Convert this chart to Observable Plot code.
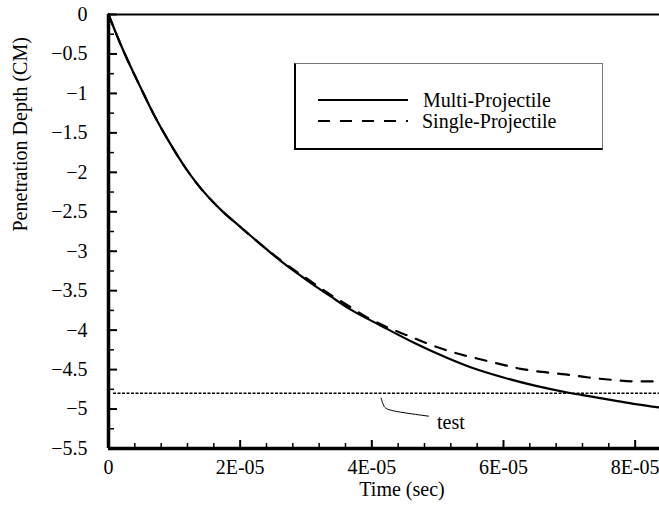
<!DOCTYPE html>
<html><head><meta charset="utf-8">
<script src="https://cdn.jsdelivr.net/npm/d3@7"></script>
<script src="https://cdn.jsdelivr.net/npm/@observablehq/plot@0.6"></script>
<style>
body{margin:0;background:#fff;}
#wrap{position:relative;width:659px;height:507px;overflow:hidden;}
#legend{position:absolute;left:294px;top:63px;width:306px;height:84px;border-top:1px solid #777;border-right:1px solid #777;border-left:2px solid #000;border-bottom:2px solid #000;background:#fff;}
</style></head><body><div id="wrap"></div>
<script>
// ---- data ----
const seriesNames = ["Multi-Projectile", "Single-Projectile"];
const timeMulti = [0, 0.18e-5, 0.49e-5, 0.69e-5, 0.94e-5, 1.15e-5, 1.35e-5, 1.70e-5, 2.00e-5, 2.38e-5, 2.61e-5, 3.07e-5, 3.37e-5, 3.68e-5, 4.13e-5, 4.64e-5, 5.14e-5, 5.50e-5, 6.00e-5, 6.51e-5, 6.97e-5, 7.32e-5, 7.67e-5, 8.03e-5, 8.37e-5];
const depthMulti = [0, -0.37, -0.93, -1.27, -1.64, -1.92, -2.15, -2.47, -2.69, -2.96, -3.12, -3.40, -3.57, -3.74, -3.94, -4.16, -4.35, -4.47, -4.60, -4.71, -4.79, -4.84, -4.89, -4.94, -4.98];
const timeSingle = [0, 0.18e-5, 0.49e-5, 0.69e-5, 0.94e-5, 1.15e-5, 1.35e-5, 1.70e-5, 2.00e-5, 2.38e-5, 2.61e-5, 3.07e-5, 3.37e-5, 3.68e-5, 3.93e-5, 4.28e-5, 4.61e-5, 4.94e-5, 5.27e-5, 5.60e-5, 5.95e-5, 6.26e-5, 6.59e-5, 6.94e-5, 7.29e-5, 7.65e-5, 8.03e-5, 8.37e-5];
const depthSingle = [0, -0.37, -0.93, -1.27, -1.64, -1.92, -2.15, -2.47, -2.69, -2.96, -3.11, -3.38, -3.55, -3.71, -3.84, -3.98, -4.09, -4.20, -4.29, -4.36, -4.43, -4.49, -4.53, -4.56, -4.60, -4.63, -4.65, -4.65];
const testDepth = -4.8;
const testLabel = "test";
const leaderTime = [4.14e-5, 4.18e-5, 4.24e-5, 4.86e-5];
const leaderDepth = [-4.86, -4.97, -5.02, -5.09];
const testLabelTime = 4.99e-5, testLabelDepth = -5.17;
const xTicks = [0, 2e-5, 4e-5, 6e-5, 8e-5];
const xTickLabels = ["0", "2E-05", "4E-05", "6E-05", "8E-05"];
const yTicks = [0, -0.5, -1, -1.5, -2, -2.5, -3, -3.5, -4, -4.5, -5, -5.5];
const yTickLabels = ["0", "\u22120.5", "\u22121", "\u22121.5", "\u22122", "\u22122.5", "\u22123", "\u22123.5", "\u22124", "\u22124.5", "\u22125", "\u22125.5"];
const xLabel = "Time (sec)";
const yLabel = "Penetration Depth (CM)";

// ---- chart ----
const xMax = 8.37e-5, yMin = -5.5, yMax = 0;
const xMinor = d3.range(0, 8.4e-5, 4e-6).filter(v => !xTicks.some(t => Math.abs(t - v) < 1e-9));
const yMinor = d3.range(-0.25, -5.5, -0.5);
const font = "'Liberation Serif','Times New Roman',serif";

const chart = Plot.plot({
  width: 659, height: 507,
  marginLeft: 108, marginRight: 0, marginTop: 14, marginBottom: 59,
  x: {domain: [0, xMax]},
  y: {domain: [yMin, yMax]},
  style: {fontFamily: font, fontSize: "20px", background: "white", color: "black", overflow: "visible"},
  marks: [
    Plot.axisX(xTicks, {tickSize: 0, tickPadding: 11, tickFormat: (d) => xTickLabels[xTicks.indexOf(d)], label: null, fontSize: 20}),
    Plot.axisY(yTicks, {tickSize: 0, tickPadding: 21, tickFormat: (d) => yTickLabels[yTicks.indexOf(d)], label: null, fontSize: 20}),
    // inward tick marks
    Plot.ruleX(xTicks, {x: d => d, y1: yMin, y2: yMin, insetTop: -8, strokeWidth: 2}),
    Plot.ruleX(xMinor, {x: d => d, y1: yMin, y2: yMin, insetTop: -5, strokeWidth: 1.5}),
    Plot.ruleY(yTicks, {y: d => d, x1: 0, x2: 0, insetRight: -9, strokeWidth: 2}),
    Plot.ruleY(yMinor, {y: d => d, x1: 0, x2: 0, insetRight: -6, strokeWidth: 1.5}),
    // test line
    Plot.ruleY([testDepth], {strokeDasharray: "3,1.5", strokeWidth: 1.3, insetLeft: 5}),
    Plot.line(leaderTime, {x: leaderTime, y: leaderDepth, curve: "basis", strokeWidth: 1}),
    Plot.text([testLabel], {x: testLabelTime, y: testLabelDepth, textAnchor: "start", fontSize: 20}),
    // series
    Plot.line(depthSingle, {x: timeSingle, y: depthSingle, curve: "monotone-x", strokeWidth: 2.2, strokeDasharray: "11,10"}),
    Plot.line(depthMulti, {x: timeMulti, y: depthMulti, curve: "monotone-x", strokeWidth: 2.2}),
    // frame
    Plot.ruleY([yMax], {strokeWidth: 2}),
    Plot.ruleX([0], {strokeWidth: 3.5}),
    Plot.ruleY([yMin], {strokeWidth: 3.5}),
    // axis titles
    Plot.text([xLabel], {frameAnchor: "bottom", dx: 18, dy: 47, fontSize: 20}),
    Plot.text([yLabel], {frameAnchor: "left", dx: -88, rotate: -90, fontSize: 20})
  ]
});
const wrap = document.getElementById("wrap");
wrap.appendChild(chart);

// legend box
const leg = document.createElement("div");
leg.id = "legend";
const ns = "http://www.w3.org/2000/svg";
const lsvg = document.createElementNS(ns, "svg");
lsvg.setAttribute("width", 306); lsvg.setAttribute("height", 84);
const rows = [{y: 36, dash: null}, {y: 57, dash: "12,10"}];
seriesNames.forEach((name, i) => {
  const r = rows[i];
  const ln = document.createElementNS(ns, "line");
  ln.setAttribute("x1", 22); ln.setAttribute("x2", 112);
  ln.setAttribute("y1", r.y); ln.setAttribute("y2", r.y);
  ln.setAttribute("stroke", "black"); ln.setAttribute("stroke-width", 2.2);
  if (r.dash) ln.setAttribute("stroke-dasharray", r.dash);
  lsvg.appendChild(ln);
  const tx = document.createElementNS(ns, "text");
  tx.setAttribute("x", 127 - (i ? 1 : 0)); tx.setAttribute("y", r.y);
  tx.setAttribute("dy", "0.35em");
  tx.setAttribute("font-family", font); tx.setAttribute("font-size", 20);
  tx.textContent = name;
  lsvg.appendChild(tx);
});
leg.appendChild(lsvg);
wrap.appendChild(leg);
</script>
</body></html>
